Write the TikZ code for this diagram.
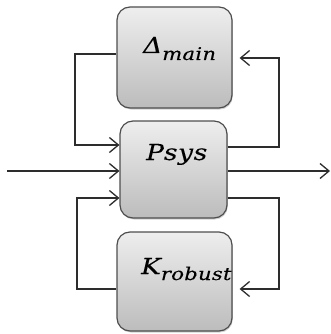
\documentclass[tikz,border=0pt]{standalone}
\usepackage{fontspec}
\newfontfamily\capfont{DejaVu Serif}[FakeStretch=1.2,FakeBold=0.3]
\usetikzlibrary{arrows.meta,shadows}
\definecolor{edgegray}{RGB}{78,78,78}
\definecolor{wiregray}{RGB}{45,45,45}
\definecolor{boxtop}{RGB}{238,238,238}
\definecolor{boxbottom}{RGB}{188,188,188}
% lowered subscript, nearly the size of the main letter
\newcommand{\subtxt}[2][6pt]{\raisebox{-#1}{\fontsize{17.5}{20}\selectfont\addfontfeature{LetterSpace=2}#2}}
\tikzset{
  block/.style={draw=edgegray, line width=1.2pt, rounded corners=13pt,
    top color=boxtop, bottom color=boxbottom,
    drop shadow={shadow xshift=0.8pt, shadow yshift=-1.5pt, opacity=0.35}},
  caption/.style={font=\capfont\itshape\fontsize{22}{24}\selectfont\addfontfeature{LetterSpace=3},
    inner sep=0pt, anchor=base west},
  wire/.style={draw=wiregray, line width=1.3pt},
  arr/.style={wire, -{Straight Barb[length=9pt,width=15pt]}}
}
\begin{document}
\begin{tikzpicture}[x=1pt,y=-1pt]
\useasboundingbox (0,0) rectangle (331,334);

% the three blocks
\node[block, minimum width=115pt, minimum height=101pt] (delta) at (174.5,57.5) {};
\node[block, minimum width=107pt, minimum height=97pt]  (plant) at (173.5,169.5) {};
\node[block, minimum width=115pt, minimum height=99pt]  (ctrl)  at (174.5,281.5) {};

% block labels
\node[caption] (deltalbl) at (143,53)  {Δ\subtxt[7pt]{main}};
\node[caption] (plantlbl) at (146,160) {Psys};
\node[caption] (ctrllbl)  at (141,274) {K\subtxt{robust}};

% external input and output
\coordinate (in)  at (7,171);
\coordinate (out) at (330,171);
\draw[arr] (in) -- (plant.west |- in);
\draw[arr] (plant.east |- out) -- (out);

% uncertainty loop
\draw[arr] (delta.west |- 0,54) -| (75,145) -- (plant.west |- 0,145);
\draw[arr, shorten >=7pt] (plant.east |- 0,147) -| (279,58) -- (delta.east |- 0,58);

% controller loop
\draw[arr] (ctrl.west |- 0,289) -| (77,198) -- (plant.west |- 0,198);
\draw[arr, shorten >=7pt] (plant.east |- 0,198) -| (279,289) -- (ctrl.east |- 0,289);
\end{tikzpicture}
\end{document}
